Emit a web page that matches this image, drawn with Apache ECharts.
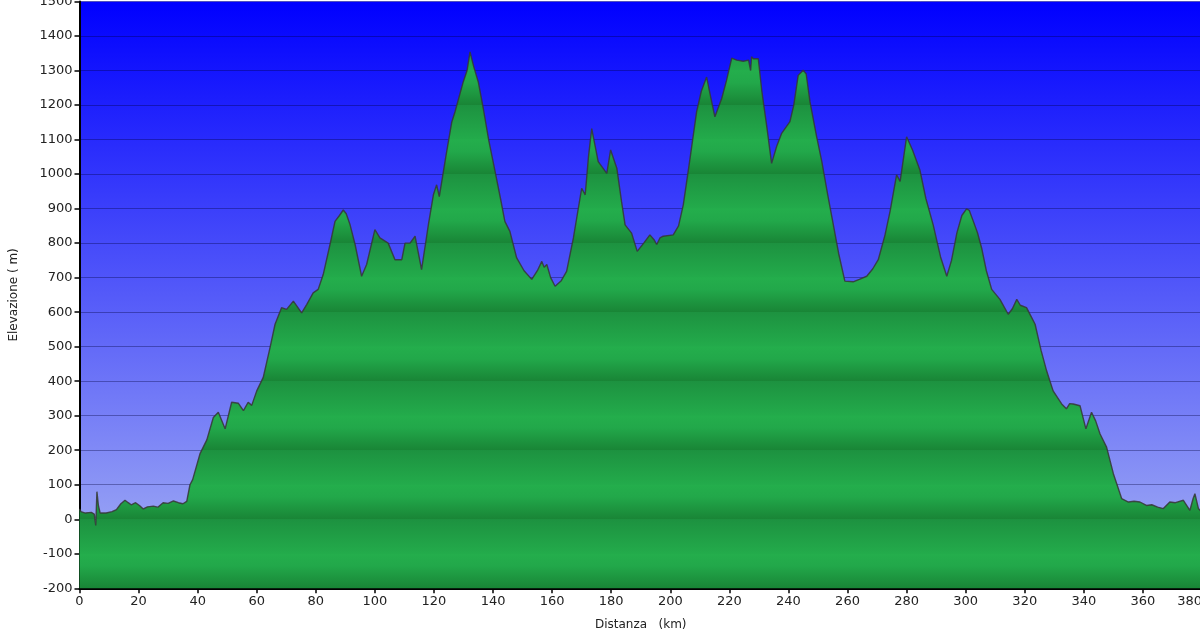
<!DOCTYPE html>
<html>
<head>
<meta charset="utf-8">
<script src="https://cdn.jsdelivr.net/npm/echarts@6/dist/echarts.min.js"></script>
<style>
html,body{margin:0;padding:0;background:#fff;}
#c{width:1200px;height:638px;}
</style>
</head>
<body>
<div id="c"></div>
<script>
const distanceKm = [0,0.5,2,4,5,5.5,5.9,6.4,7,9,11,12.5,14,15.4,16.5,17.5,19,20.3,21.6,23,25,26.5,28.3,30,31.8,33.5,35,36.3,37.4,38.3,40.8,43.1,45.3,47,49.3,51.5,53.8,55.5,57.1,58.3,60,62.2,64.5,66.2,68.4,70.1,72.4,75.2,76.9,79.1,80.8,82.5,84.8,86.5,88,89.3,90.3,91.6,93.3,95.5,97.2,100,101.7,104.5,106.8,109.1,110.2,111.9,113.6,115.8,118.1,119.8,120.9,121.8,124,126,127.1,129.9,131.2,132.2,133.5,135,136.7,138.5,140.7,142.5,144,145.7,148,150.5,153.1,155,156.5,157.3,158.2,159.5,161,163,164.9,167.2,170,171.2,172.3,173.4,175.6,178.5,179.8,181.9,183.5,184.7,186.9,188.8,191,193.1,194.5,195.4,196.5,197.6,201,202.8,204.4,206.7,208.9,210.5,212.3,213.5,215.1,217.4,219,220.8,222.5,224.7,226.5,227.2,227.5,228.1,229.8,231,232.6,234.3,236,237.7,240.5,241.8,243.3,245,246,247.3,249.5,251.3,253.3,255.2,257,259.1,261.9,264,266.5,268.5,270.4,272.7,274.4,276.6,277.8,280,282,284.5,286.5,289,291.5,293.6,295.2,297,298.7,300.3,301.2,302.6,304,305.4,307,308.8,311.6,314.4,315.8,317.3,318.5,320.6,322,323.5,325.5,327.4,329.6,332.5,334.1,335.2,336.4,338.7,340.7,342.6,344,345.5,347.7,350,352.8,355.1,357,359,361.2,363,365,366.9,369.1,371,373.7,375.9,377,377.6,378.8,380];
const elevationM = [30,22,18,20,15,-18,80,40,18,18,22,28,45,55,48,42,48,40,30,36,38,35,48,46,53,48,45,52,100,115,190,230,295,310,262,339,336,315,339,330,372,411,497,565,613,608,632,598,622,656,666,709,796,863,880,896,885,853,796,704,738,839,815,800,752,752,800,800,820,723,853,940,969,935,1050,1150,1180,1267,1300,1354,1310,1267,1190,1100,1007,930,863,834,757,720,695,720,747,730,738,700,675,690,718,815,959,940,1050,1132,1036,1002,1070,1017,920,853,829,776,800,824,810,796,815,820,824,850,911,1046,1180,1240,1281,1230,1166,1219,1270,1336,1330,1327,1330,1300,1340,1334,1334,1240,1142,1031,1080,1118,1152,1200,1286,1301,1290,1209,1110,1036,940,853,770,690,688,695,704,725,752,824,892,998,979,1108,1070,1012,930,853,760,704,750,829,880,899,895,863,830,786,720,666,637,594,610,637,620,613,590,565,490,430,372,334,320,335,334,329,262,310,285,247,209,132,60,50,52,50,40,42,35,31,50,48,55,26,60,74,31,20];
const xTicks = {min:0, max:380, step:20};
const yTicks = {min:-200, max:1500, step:100};

const chart = echarts.init(document.getElementById('c'));
const gridTop = 1.5, gridBottomPx = 588.3;

// green banded fill (period of 200 m, dark at even hundreds)
const stops = [];
const span = yTicks.max - yTicks.min;
for (let h = yTicks.max; h > yTicks.min; h -= 100) {
  const p0 = (yTicks.max - h) / span, p1 = (yTicks.max - h + 100) / span;
  const odd = Math.abs(h / 100) % 2 === 1;
  if (odd) {
    stops.push({offset:p0, color:'#24ae4c'});
    stops.push({offset:p0 + (p1-p0)*0.35, color:'#22a84a'});
    stops.push({offset:p1 - 0.0005, color:'#198536'});
  } else {
    stops.push({offset:p0 + 0.0005, color:'#1d9240'});
    stops.push({offset:p1 - 0.0005, color:'#23ab4b'});
  }
}
const greenFill = new echarts.graphic.LinearGradient(0, gridTop, 0, gridBottomPx, stops, true);

chart.setOption({
  animation:false,
  backgroundColor:'#ffffff',
  grid:{left:79.5, right:-2, top:gridTop, bottom:638-gridBottomPx, outerBoundsMode:'none', containLabel:false,
    show:true, borderWidth:0,
    backgroundColor: new echarts.graphic.LinearGradient(0,0,0,1,[
      {offset:0,color:'#0000ff'},{offset:1,color:'#a8b4f3'}])},
  xAxis:{type:'value', min:xTicks.min, max:xTicks.max, interval:xTicks.step,
    name:'Distanza   (km)', nameLocation:'middle', nameGap:31,
    nameTextStyle:{fontFamily:'DejaVu Sans', fontSize:12, color:'#222'},
    axisLine:{show:true, onZero:false, lineStyle:{color:'#000', width:2}},
    axisTick:{show:true, length:5, lineStyle:{color:'#000', width:1.5}},
    axisLabel:{fontFamily:'DejaVu Sans', fontSize:13, color:'#222', margin:7, showMaxLabel:true, alignMaxLabel:'right',
      formatter: v => String(v)},
    splitLine:{show:false}},
  yAxis:{type:'value', min:yTicks.min, max:yTicks.max, interval:yTicks.step,
    name:'Elevazione ( m)', nameLocation:'middle', nameGap:60, nameRotate:90,
    nameTextStyle:{fontFamily:'DejaVu Sans', fontSize:12, color:'#222'},
    axisLine:{show:true, lineStyle:{color:'#000', width:2}},
    axisTick:{show:true, length:5, lineStyle:{color:'#000', width:1.5}},
    axisLabel:{fontFamily:'DejaVu Sans', fontSize:13, color:'#222', margin:7, formatter: v => String(v)},
    splitLine:{show:true, lineStyle:{color:'rgba(0,0,60,0.35)', width:1}}},
  series:[{
    type:'line', data: distanceKm.map((k,i)=>[k, elevationM[i]]),
    symbol:'none', smooth:false,
    lineStyle:{color:'#363636', width:1.4, opacity:0.85},
    areaStyle:{origin:'start', color:greenFill, opacity:1}
  }]
});
</script>
</body>
</html>
